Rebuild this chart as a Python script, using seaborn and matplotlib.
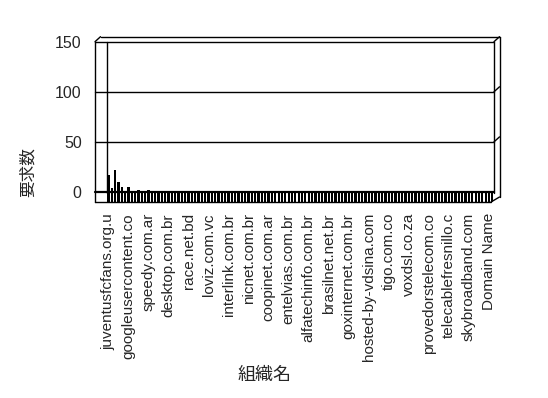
import numpy as np
import pandas as pd
import matplotlib
matplotlib.use("Agg")
import matplotlib.pyplot as plt
from matplotlib.lines import Line2D
from matplotlib import transforms
import seaborn as sns

# ---- data ----
tick_labels = ["juventusfcfans.org.u", "googleusercontent.co", "speedy.com.ar",
               "desktop.com.br", "race.net.bd", "loviz.com.vc", "interlink.com.br",
               "nicnet.com.br", "coopinet.com.ar", "entelvias.com.br",
               "alfatechinfo.com.br", "brasilnet.net.br", "goxinternet.com.br",
               "hosted-by-vdsina.com", "tigo.com.co", "voxdsl.co.za",
               "provedorstelecom.co", "telecablefresnillo.c", "skybroadband.com",
               "Domain Name"]
values = [17, 4, 22, 10, 5, 1, 5, 1, 1, 2, 1, 1, 2, 1, 1, 1, 1, 1, 1, 1,
          1, 1, 1, 1, 1, 1, 1, 1, 1, 1, 1, 1, 1, 1, 1, 1, 1, 1, 1, 1,
          1, 1, 1, 1, 1, 1, 1, 1, 1, 1, 1, 1, 1, 1, 1, 1, 1, 1, 1, 1,
          1, 1, 1, 1, 1, 1, 1, 1, 1, 1, 1, 1, 1, 1, 1, 1, 1, 1, 1, 1,
          1, 1, 1, 1, 1, 1, 1, 1, 1, 1, 1, 1, 1, 1, 1, 1, 1, 1, 1, 1,
          1, 1, 1, 1, 1, 1, 1, 1, 1, 1, 1, 1, 1, 1, 1, 1]
y_ticks = [0, 50, 100, 150]
label_step = 6
x_title = "組織名"
y_title = "要求数"

sns.set_style("white")
plt.rcParams['font.family'] = ['Liberation Sans', 'Noto Sans CJK JP', 'DejaVu Sans']

W, H = 548, 398
fig = plt.figure(figsize=(W / 100, H / 100), dpi=100)

def fx(px):
    return px / W

def fy(py):
    return 1 - py / H

left_px, right_px, top_px, bot_px = 106.7, 494, 41.7, 202
ax = fig.add_axes([fx(left_px), fy(bot_px), fx(right_px) - fx(left_px), fy(top_px) - fy(bot_px)])

df = pd.DataFrame({"idx": np.arange(len(values)), "value": values})
sns.barplot(data=df, x="idx", y="value", color="black", width=0.68,
            saturation=1, ax=ax, zorder=2)
floor = -10
for p in ax.patches:
    h = p.get_height()
    p.set_y(floor)
    p.set_height(h - floor)
    p.set_edgecolor("none")

ax.set_xlim(-0.5, len(values) - 0.5)
ax.set_ylim(floor, 150)
ax.set_yticks(y_ticks)
ax.set_yticklabels([str(v) for v in y_ticks], fontsize=11.5)
ax.set_xticks(np.arange(0, len(values), label_step)[:len(tick_labels)])
ax.set_xticklabels(tick_labels, rotation=90, fontsize=11, va="top", ha="center")
ax.tick_params(axis="y", length=0, pad=18)
ax.tick_params(axis="x", length=0, pad=8)
ax.set_xlabel("")
ax.set_ylabel("")
for s in ax.spines.values():
    s.set_visible(False)
ax.patch.set_alpha(0)

# gridlines (span the front face incl. left wall)
blend = transforms.blended_transform_factory(fig.transFigure, ax.transData)
dx, dy = 5.5, 5
for v in y_ticks:
    lw = 1.6 if v == 0 else 1.0
    fig.add_artist(Line2D([fx(95), fx(right_px)], [v, v], transform=blend,
                          color="black", lw=lw, zorder=5))
for v in y_ticks[1:]:
    yp = ax.transData.transform((0, v))[1]
    fig.add_artist(Line2D([fx(right_px), fx(right_px + dx)],
                          [yp / fig.dpi / fig.get_figheight(), (yp + dy) / fig.dpi / fig.get_figheight()],
                          transform=fig.transFigure, color="black", lw=1.0))

# 3D frame
segs = [
    ((95, top_px), (95, bot_px)),
    ((95, bot_px), (right_px - 3, bot_px)),
    ((right_px - 3, bot_px), (right_px + dx, bot_px - dy)),
    ((right_px + dx, bot_px - dy), (right_px + dx, top_px - dy)),
    ((95 + dx, top_px - dy), (right_px + dx, top_px - dy)),
    ((95, top_px), (95 + dx, top_px - dy)),
    ((left_px, top_px), (left_px, 193)),
    ((right_px, top_px), (right_px, 193)),
]
for (x0, y0), (x1, y1) in segs:
    fig.add_artist(Line2D([fx(x0), fx(x1)], [fy(y0), fy(y1)],
                          transform=fig.transFigure, color="black", lw=1.0))

fig.text(fx(28), fy(172), y_title, rotation=90, ha="center", va="center",
         fontsize=12, family=['Noto Sans CJK JP', 'DejaVu Sans'])
fig.text(fx(265), fy(375), x_title, ha="center", va="center",
         fontsize=13, family=['Noto Sans CJK JP', 'DejaVu Sans'])

fig.savefig("out.png", dpi=100, facecolor="white")
